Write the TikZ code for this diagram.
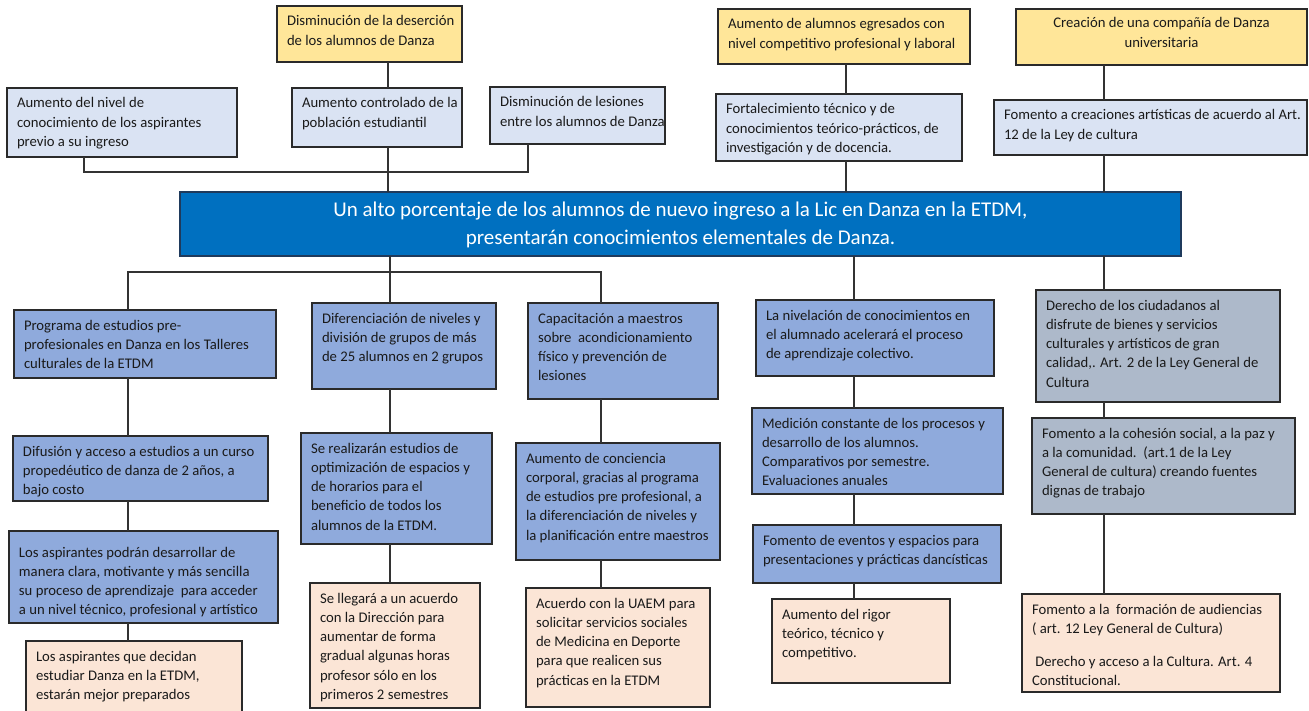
\documentclass[tikz,border=0pt]{standalone}
\usepackage{fontspec}
\setmainfont{Carlito}
\usetikzlibrary{shadows}
\definecolor{cYel}{HTML}{FFE699}
\definecolor{cLB}{HTML}{DAE3F3}
\definecolor{cMB}{HTML}{8FAADC}
\definecolor{cGB}{HTML}{ADB9CA}
\definecolor{cPch}{HTML}{FBE5D6}
\definecolor{cMain}{HTML}{0070C0}
\definecolor{cMainB}{HTML}{1F3A5C}
\definecolor{cBord}{HTML}{2A2A2A}
\definecolor{cLine}{HTML}{333333}
\definecolor{cTxt}{HTML}{1A1A1A}
\tikzset{
  boxbase/.style={rectangle,draw=cBord,line width=1.5pt,outer sep=0pt,inner sep=0pt,
    drop shadow={shadow xshift=1.3pt,shadow yshift=-1.3pt,opacity=0.25}},
  yel/.style={fill=cYel},
  lb/.style={fill=cLB},
  mb/.style={fill=cMB},
  gb/.style={fill=cGB},
  pch/.style={fill=cPch},
  boxtext/.style={inner sep=0pt,outer sep=0pt,align=left,text=cTxt,
    font=\fontsize{14.7}{19.3}\selectfont},
  conn/.style={draw=cLine,line width=1.3pt},
}
% #1 text options, #2 name, #3 x1, #4 y1, #5 x2, #6 y2, #7 style, #8 text
\newcommand\mybox[8][]{%
  \node[boxbase,#7,minimum width={#5-#3},minimum height={#6-#4},anchor=north west] (#2) at (#3,#4) {};
  \node[boxtext,anchor=north west,#1] (#2-t) at ([shift={(10pt,-7pt)}]#2.north west) {\rule{0pt}{13pt}#8};
}
\begin{document}
\begin{tikzpicture}[x=1pt,y=-1pt]
\useasboundingbox[fill=white] (0,0) rectangle (1309,711);

% ---------- top row ----------
\mybox{y1}{277}{6}{462}{62}{yel}{Disminución de la deserción\\de los alumnos de Danza}
\mybox{y2}{718}{9}{970}{64}{yel}{Aumento de alumnos egresados con\\nivel competitivo profesional y laboral}
\node[boxbase,yel,minimum width=291,minimum height=56,anchor=north west] (y3) at (1016,9) {};
\node[boxtext,align=center,anchor=north] (y3-t) at ([yshift=-6pt]y3.north) {\rule{0pt}{13pt}Creación de una compañía de Danza\\universitaria};

\mybox{l1}{7}{88}{237}{157}{lb}{Aumento del nivel de\\conocimiento de los aspirantes\\previo a su ingreso}
\mybox{l2}{292}{88}{462}{147}{lb}{Aumento controlado de la\\población estudiantil}
\mybox{l3}{490}{87}{665}{144}{lb}{Disminución de lesiones\\entre los alumnos de Danza}
\mybox{l4}{716}{94}{962}{161}{lb}{Fortalecimiento técnico y de\\conocimientos teórico-prácticos, de\\investigación y de docencia.}
\mybox{l5}{994}{100}{1307}{155}{lb}{Fomento a creaciones artísticas de acuerdo al Art.\\12 de la Ley de cultura}

% ---------- main ----------
\node[boxbase,fill=cMain,draw=cMainB,minimum width=1001,minimum height=64,anchor=north west] (main) at (180,192) {};
\node[inner sep=0pt,align=center,text=white,font=\fontsize{21}{28}\selectfont] (main-t) at ([yshift=-1pt]main.center)
  {Un alto porcentaje de los alumnos de nuevo ingreso a la Lic en Danza en la ETDM,\\presentarán conocimientos elementales de Danza.};

% ---------- column 1 ----------
\mybox{b1}{14}{310}{276}{378}{mb}{Programa de estudios pre-\\profesionales en Danza en los Talleres\\culturales de la ETDM}
\mybox{b1b}{13}{436}{268}{501}{mb}{Difusión y acceso a estudios a un curso\\propedéutico de danza de 2 años, a\\bajo costo}
\mybox[yshift=-6pt]{b1c}{9}{531}{278}{623}{mb}{Los aspirantes podrán desarrollar de\\manera clara, motivante y más sencilla\\su proceso de aprendizaje\ \ para acceder\\a un nivel técnico, profesional y artístico}
\mybox{b1d}{26}{641}{242}{718}{pch}{Los aspirantes que decidan\\estudiar Danza en la ETDM,\\estarán mejor preparados}

% ---------- column 2 ----------
\mybox{b2}{312}{303}{496}{389}{mb}{Diferenciación de niveles y\\división de grupos de más\\de 25 alumnos en 2 grupos}
\mybox{b2b}{301}{433}{492}{544}{mb}{Se realizarán estudios de\\optimización de espacios y\\de horarios para el\\beneficio de todos los\\alumnos de la ETDM.}
\mybox{b2c}{310}{583}{480}{708}{pch}{Se llegará a un acuerdo\\con la Dirección para\\aumentar de forma\\gradual algunas horas\\profesor sólo en los\\primeros 2 semestres}

% ---------- column 3 ----------
\mybox{b3}{528}{303}{718}{399}{mb}{Capacitación a maestros\\sobre\ \ acondicionamiento\\físico y prevención de\\lesiones}
\mybox{b3b}{516}{443}{720}{560}{mb}{Aumento de conciencia\\corporal, gracias al programa\\de estudios pre profesional, a\\la diferenciación de niveles y\\la planificación entre maestros}
\mybox{b3c}{526}{588}{710}{707}{pch}{Acuerdo con la UAEM para\\solicitar servicios sociales\\de Medicina en Deporte\\para que realicen sus\\prácticas en la ETDM}

% ---------- column 4 ----------
\mybox{d1}{756}{300}{994}{376}{mb}{La nivelación de conocimientos en\\el alumnado acelerará el proceso\\de aprendizaje colectivo.}
\mybox{d2}{752}{408}{1003}{494}{mb}{Medición constante de los procesos y\\desarrollo de los alumnos.\\Comparativos por semestre.\\Evaluaciones anuales}
\mybox{d3}{753}{525}{1001}{583}{mb}{Fomento de eventos y espacios para\\presentaciones y prácticas dancísticas}
\mybox{d4}{772}{599}{950}{683}{pch}{Aumento del rigor\\teórico, técnico y\\competitivo.}

% ---------- column 5 ----------
\mybox{e1}{1036}{290}{1280}{402}{gb}{Derecho de los ciudadanos al\\disfrute de bienes y servicios\\culturales y artísticos de gran\\calidad,. Art. 2 de la Ley General de\\Cultura}
\mybox{e2}{1032}{418}{1295}{514}{gb}{Fomento a la cohesión social, a la paz y\\a la comunidad.\ \ (art.1 de la Ley\\General de cultura) creando fuentes\\dignas de trabajo}
\mybox{e3}{1022}{594}{1280}{692}{pch}{Fomento a la\ \ formación de audiencias\\( art. 12 Ley General de Cultura)\\[14pt]\ Derecho y acceso a la Cultura. Art. 4\\Constitucional.}

% ---------- connector coordinates ----------
\coordinate (cA) at (388,0);
\coordinate (cL1) at (84,0);
\coordinate (cL3) at (528,0);
\coordinate (cY2) at (846,0);
\coordinate (cC) at (1104,0);
\coordinate (cM) at (390,0);
\coordinate (cB1) at (128,0);
\coordinate (cB3) at (601,0);
\coordinate (cD) at (854,0);
\coordinate (busT) at (0,172);
\coordinate (busB) at (0,272);

% ---------- connectors (top) ----------
\draw[conn] (y1.south -| cA) -- (l2.north -| cA);
\draw[conn] (l2.south -| cA) -- (main.north -| cA);
\draw[conn] (l1.south -| cL1) -- (busT -| cL1) -- (busT -| cL3) -- (l3.south -| cL3);
\draw[conn] (y2.south -| cY2) -- (l4.north -| cY2);
\draw[conn] (l4.south -| cY2) -- (main.north -| cY2);
\draw[conn] (y3.south -| cC) -- (l5.north -| cC);
\draw[conn] (l5.south -| cC) -- (main.north -| cC);

% ---------- connectors (bottom) ----------
\draw[conn] (main.south -| cM) -- (b2.north -| cM);
\draw[conn] (b1.north -| cB1) -- (busB -| cB1) -- (busB -| cB3) -- (b3.north -| cB3);
\draw[conn] (b1.south -| cB1) -- (b1b.north -| cB1);
\draw[conn] (b1b.south -| cB1) -- (b1c.north -| cB1);
\draw[conn] (b1c.south -| cB1) -- (b1d.north -| cB1);
\draw[conn] (b2.south -| cM) -- (b2b.north -| cM);
\draw[conn] (b2b.south -| cM) -- (b2c.north -| cM);
\draw[conn] (b3.south -| cB3) -- (b3b.north -| cB3);
\draw[conn] (b3b.south -| cB3) -- (b3c.north -| cB3);
\draw[conn] (main.south -| cD) -- (d1.north -| cD);
\draw[conn] (d1.south -| cD) -- (d2.north -| cD);
\draw[conn] (d2.south -| cD) -- (d3.north -| cD);
\draw[conn] (d3.south -| cD) -- (d4.north -| cD);
\draw[conn] (main.south -| cC) -- (e1.north -| cC);
\draw[conn] (e1.south -| cC) -- (e2.north -| cC);
\draw[conn] (e2.south -| cC) -- (e3.north -| cC);
\end{tikzpicture}
\end{document}
